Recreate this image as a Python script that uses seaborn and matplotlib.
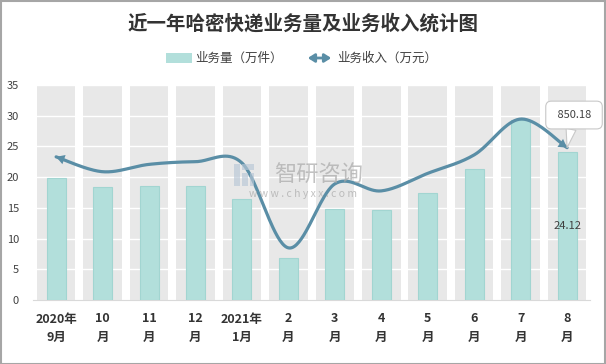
import numpy as np
import pandas as pd
import matplotlib
matplotlib.use("Agg")
import matplotlib.pyplot as plt
import seaborn as sns
from matplotlib.patches import Rectangle, FancyArrowPatch

# ---------------- data ----------------
months = ["2020年\n9月", "10\n月", "11\n月", "12\n月", "2021年\n1月", "2\n月",
          "3\n月", "4\n月", "5\n月", "6\n月", "7\n月", "8\n月"]
volume = [19.8, 18.35, 18.5, 18.5, 16.45, 6.8, 14.8, 14.65, 17.4, 21.3, 29.3, 24.12]   # 万件
revenue = [799, 716, 757, 772, 765, 291, 648, 609, 707, 810, 1010, 850.18]             # 万元
yticks = [0, 5, 10, 15, 20, 25, 30, 35]

BAR = "#b2dfdb"
BAR_EDGE = "#a2d5d1"
LINE = "#5a8ea6"
BAND = "#e8e8e8"
TXT = "#404040"

sns.set_theme(style="white")
plt.rcParams['font.family'] = ['Noto Sans CJK SC', 'DejaVu Sans']

fig = plt.figure(figsize=(6.06, 3.64), dpi=100)
ax = fig.add_axes([32.9 / 606, 64 / 364, (590.3 - 32.9) / 606, 215 / 364])

n = len(months)
# grey category bands
for i in range(n):
    ax.axvspan(i - 0.415, i + 0.415, ymin=0, ymax=1, color=BAND, lw=0, zorder=0)
# white gridlines
for t in yticks[1:]:
    ax.axhline(t, color="white", lw=1.0, zorder=1)

df = pd.DataFrame({"month": months, "volume": volume})
sns.barplot(data=df, x="month", y="volume", order=months, color=BAR, saturation=1,
            width=0.41, edgecolor=BAR_EDGE, linewidth=0.8, ax=ax, zorder=3)

ax.set_xlim(-0.5, n - 0.5)
ax.set_ylim(0, 35)
ax.set_yticks(yticks)
ax.set_yticklabels([str(t) for t in yticks], fontsize=8, color=TXT)
ax.set_xticks(range(n))
ax.set_xticklabels(months, fontsize=9, fontweight="bold", color="#333333", linespacing=1.55)
ax.set_xticks(np.arange(-0.5, n, 1.0), minor=True)
ax.tick_params(axis="x", which="major", length=0, pad=9)
ax.tick_params(axis="x", which="minor", length=4, color="#d0d0d0", width=0.8)
ax.tick_params(axis="y", length=0, pad=10)
ax.set_xlabel("")
ax.set_ylabel("")
for s in ["top", "right", "left"]:
    ax.spines[s].set_visible(False)
ax.spines["bottom"].set_color("#d9d9d9")
ax.spines["bottom"].set_linewidth(0.8)

# bar value label
ax.text(n - 1, volume[-1] / 2, f"{volume[-1]:.2f}", ha="center", va="center",
        fontsize=8, color=TXT, zorder=6)

# ---------------- revenue line (secondary axis, hidden) ----------------
ax2 = ax.twinx()


def smooth(xs, ys, k=40):
    P = np.column_stack([xs, ys]).astype(float)
    ext = np.vstack([P[0], P, P[-1]])
    out = []
    t = np.linspace(0, 1, k)[:, None]
    for i in range(len(P) - 1):
        p0, p1, p2, p3 = ext[i], ext[i + 1], ext[i + 2], ext[i + 3]
        c1 = p1 + (p2 - p0) / 6
        c2 = p2 - (p3 - p1) / 6
        seg = (1 - t) ** 3 * p1 + 3 * (1 - t) ** 2 * t * c1 + 3 * (1 - t) * t ** 2 * c2 + t ** 3 * p2
        out.append(seg if i == 0 else seg[1:])
    return np.vstack(out)


curve = smooth(np.arange(n), revenue)
cdf = pd.DataFrame({"x": curve[:, 0], "y": curve[:, 1]})
sns.lineplot(data=cdf, x="x", y="y", sort=False, estimator=None, color=LINE, lw=2.3,
             ax=ax2, zorder=5)
ax2.axis("off")
ax2.set_ylim(0, 1200)
ax2.set_xlim(-0.5, n - 0.5)

# arrow heads at both ends
for a, b in [(curve[3], curve[0]), (curve[-4], curve[-1])]:
    ax2.annotate("", xy=tuple(b), xytext=tuple(a),
                 arrowprops=dict(arrowstyle="-|>,head_length=0.6,head_width=0.35",
                                 color=LINE, lw=0, mutation_scale=10, shrinkA=0, shrinkB=0),
                 zorder=6)

# callout for last revenue value
ax2.annotate(f" {revenue[-1]:.2f} ", xy=(n - 1, revenue[-1]), xytext=(5, 23.5),
             textcoords="offset points", ha="center", va="center", fontsize=8, color=TXT,
             bbox=dict(boxstyle="round,pad=0.8,rounding_size=0.5", fc="white", ec="#c8c8c8", lw=0.8),
             arrowprops=dict(arrowstyle="wedge,tail_width=0.9", fc="white", ec="#c8c8c8",
                             lw=0.8, shrinkA=0, shrinkB=0),
             zorder=7, annotation_clip=False)

# ---------------- watermark ----------------
fig.text(319 / 606, 1 - 175 / 364, "智研咨询", ha="center", va="center", fontsize=16,
         color="#a8a8a8", alpha=0.7, zorder=10)
fig.text(303 / 606, 1 - 194 / 364, "w w w . c h y x x . c o m", ha="center", va="center",
         fontsize=7.5, color="#a8a8a8", alpha=0.7, zorder=10)
for (xx, yy, ww, hh) in [(234, 164, 6, 22), (242, 164, 12, 6), (242, 173, 6, 13), (250, 173, 4, 13)]:
    fig.patches.append(Rectangle((xx / 606, 1 - (yy + hh) / 364), ww / 606, hh / 364,
                                 transform=fig.transFigure, fc="#b8c7d6", ec="none",
                                 alpha=0.65, zorder=10))

# ---------------- title & legend ----------------
fig.text(0.5, 1 - 24 / 364, "近一年哈密快递业务量及业务收入统计图", ha="center", va="center",
         fontsize=14, fontweight="bold", color="#333333")

ly = 1 - 58 / 364
fig.patches.append(Rectangle((166 / 606, ly - 4.5 / 364), 26 / 606, 9 / 364,
                             transform=fig.transFigure, fc=BAR, ec="none"))
fig.text(195 / 606, ly, "业务量（万件）", ha="left", va="center", fontsize=9, color=TXT)
fig.patches.append(FancyArrowPatch((305 / 606, ly), (334 / 606, ly), transform=fig.transFigure,
                                   arrowstyle="<|-|>,head_length=0.55,head_width=0.35",
                                   mutation_scale=7, color=LINE, lw=2.0))
fig.text(337 / 606, ly, "业务收入（万元）", ha="left", va="center", fontsize=9, color=TXT)

# outer frame
fig.patches.append(Rectangle((0.5 / 606, 0.5 / 364), 604.5 / 606, 362.5 / 364,
                             transform=fig.transFigure, fill=False, ec="#a6a6a6", lw=1.5))

fig.savefig("out.png", dpi=100)
